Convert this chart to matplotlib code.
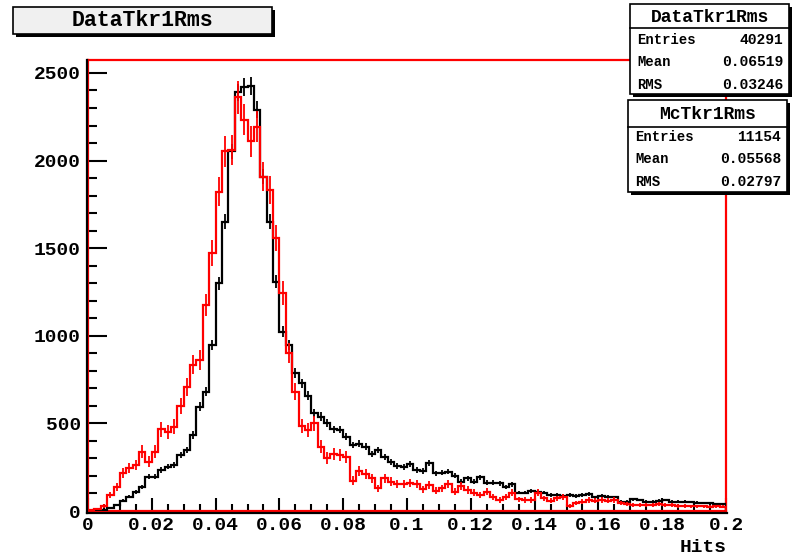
import numpy as np
import matplotlib
matplotlib.use('Agg')
import matplotlib.pyplot as plt
from matplotlib.patches import Rectangle
from matplotlib.lines import Line2D

# ---------------- data ----------------
x_min, x_max, n_bins = 0.0, 0.2, 100

data_counts = [0, 2, 8, 15, 34, 59, 82, 110, 135, 196,
               196, 234, 253, 263, 320, 348, 434, 596, 681, 948,
               1300, 1652, 2052, 2389, 2420, 2425, 2290, 1909, 1652, 1309,
               1024, 948, 786, 729, 657, 561, 539, 501, 466, 465,
               424, 377, 383, 367, 325, 348, 310, 282, 257, 251,
               268, 234, 228, 276, 215, 219, 225, 200, 167, 187,
               167, 192, 162, 162, 158, 139, 152, 105, 105, 116,
               110, 105, 91, 91, 85, 91, 86, 91, 97, 78,
               86, 82, 78, 53, 53, 67, 63, 53, 53, 59,
               63, 53, 53, 53, 50, 48, 44, 44, 40, 40]

mc_counts = [5, 12, 30, 91, 139, 219, 244, 263, 339, 282,
             339, 466, 453, 481, 600, 706, 834, 862, 1176, 1471,
             1823, 2052, 2060, 2360, 2233, 2109, 2194, 1909, 1833, 1557,
             1243, 904, 681, 485, 463, 501, 367, 301, 324, 320,
             310, 173, 230, 211, 187, 129, 187, 168, 152, 154,
             160, 156, 124, 148, 116, 129, 154, 110, 143, 120,
             105, 91, 110, 78, 63, 78, 105, 67, 63, 63,
             105, 72, 59, 72, 78, 28, 44, 53, 63, 59,
             63, 59, 63, 44, 40, 34, 34, 34, 34, 40,
             34, 34, 30, 30, 27, 27, 27, 25, 27, 25]

data_name = "DataTkr1Rms"
mc_name = "McTkr1Rms"
data_stats = [("Entries", "40291"), ("Mean", "0.06519"), ("RMS", "0.03246")]
mc_stats = [("Entries", "11154"), ("Mean", "0.05568"), ("RMS", "0.02797")]
data_entries = 40291
mc_entries = 11154

x_ticks = [0, 0.02, 0.04, 0.06, 0.08, 0.1, 0.12, 0.14, 0.16, 0.18, 0.2]
x_tick_labels = ["0", "0.02", "0.04", "0.06", "0.08", "0.1", "0.12", "0.14", "0.16", "0.18", "0.2"]
y_ticks = [0, 500, 1000, 1500, 2000, 2500]
y_tick_labels = ["0", "500", "1000", "1500", "2000", "2500"]
x_label = "Hits"

# ---------------- figure ----------------
W, H = 795, 555
FONT = 'Liberation Mono'
fig = plt.figure(figsize=(W / 100, H / 100), dpi=100)
ax = fig.add_axes([88 / W, 1 - 511 / H, 638 / W, 451 / H])

edges = np.linspace(x_min, x_max, n_bins + 1)
centers = 0.5 * (edges[:-1] + edges[1:])
d = np.array(data_counts, dtype=float)
m = np.array(mc_counts, dtype=float)
scale = data_entries / mc_entries
d_err = np.sqrt(d)
m_err = np.sqrt(m * scale)

ax.stairs(d, edges, color='black', lw=1.6, zorder=3)
ax.errorbar(centers, d, yerr=d_err, fmt='none', ecolor='black', elinewidth=1.3, capsize=0, zorder=3)
ax.stairs(m, edges, color='#ff0000', lw=1.6, zorder=4)
ax.errorbar(centers, m, yerr=m_err, fmt='none', ecolor='#ff0000', elinewidth=1.3, capsize=0, zorder=4)

ax.set_xlim(x_min, x_max)
ax.set_ylim(0, 2574)

ax.set_xticks(x_ticks, x_tick_labels)
ax.set_yticks(y_ticks, y_tick_labels)
ax.set_xticks(np.arange(0, 0.2001, 0.005), minor=True)
ax.set_yticks(np.arange(0, 2574, 100), minor=True)
ax.tick_params(axis='y', which='major', direction='in', length=13.7, width=1.5, pad=5)
ax.tick_params(axis='y', which='minor', direction='in', length=6.8, width=1.5)
ax.tick_params(axis='x', which='major', direction='in', length=9.7, width=1.5, pad=4)
ax.tick_params(axis='x', which='minor', direction='in', length=4.9, width=1.5)
for lab in ax.get_xticklabels() + ax.get_yticklabels():
    lab.set_fontfamily(FONT)
    lab.set_fontweight('bold')
    lab.set_fontsize(14)

for s in ax.spines.values():
    s.set_color('#ff0000')
    s.set_linewidth(1.6)

def fx(x):
    return x / W

def fy(y):
    return 1 - y / H

# black axis lines just outside left/bottom
fig.add_artist(Line2D([fx(87), fx(727)], [fy(512.5), fy(512.5)], color='black', lw=1.6))
fig.add_artist(Line2D([fx(86.5), fx(86.5)], [fy(512.5), fy(60)], color='black', lw=1.6))

fig.text(fx(727), fy(547), x_label, ha='right', va='center',
         fontfamily=FONT, fontweight='bold', fontsize=14)

# ---------------- boxes ----------------
def box(x0, y0, x1, y1, face='white', shadow=3):
    fig.add_artist(Rectangle((fx(x0 + shadow), fy(y1 + shadow)), (x1 - x0) / W, (y1 - y0) / H,
                             facecolor='black', edgecolor='black', lw=0, zorder=10))
    fig.add_artist(Rectangle((fx(x0), fy(y1)), (x1 - x0) / W, (y1 - y0) / H,
                             facecolor=face, edgecolor='black', lw=1.2, zorder=11))

# title box
box(13, 7, 272, 34, face='#f0f0f0')
fig.text(fx(142), fy(21), data_name, ha='center', va='center', fontfamily=FONT,
         fontweight='bold', fontsize=15.5, zorder=12)

def stats_box(x0, y0, x1, y1, hline, name, rows, row_ys):
    box(x0, y0, x1, y1)
    fig.add_artist(Line2D([fx(x0), fx(x1)], [fy(hline), fy(hline)], color='black', lw=1.2, zorder=12))
    fig.text(fx((x0 + x1) / 2), fy((y0 + hline) / 2 + 1), name, ha='center', va='center',
             fontfamily=FONT, fontweight='bold', fontsize=13, zorder=12)
    for (lab, val), yy in zip(rows, row_ys):
        fig.text(fx(x0 + 7), fy(yy), lab, ha='left', va='center', fontfamily=FONT,
                 fontweight='bold', fontsize=10, zorder=12)
        fig.text(fx(x1 - 6), fy(yy), val, ha='right', va='center', fontfamily=FONT,
                 fontweight='bold', fontsize=10.5, zorder=12)

stats_box(630, 4, 789, 94, 28, data_name, data_stats, [40, 62, 85])
stats_box(628, 100, 787, 192, 127, mc_name, mc_stats, [137, 159, 182])

fig.savefig('out.png', dpi=100)
